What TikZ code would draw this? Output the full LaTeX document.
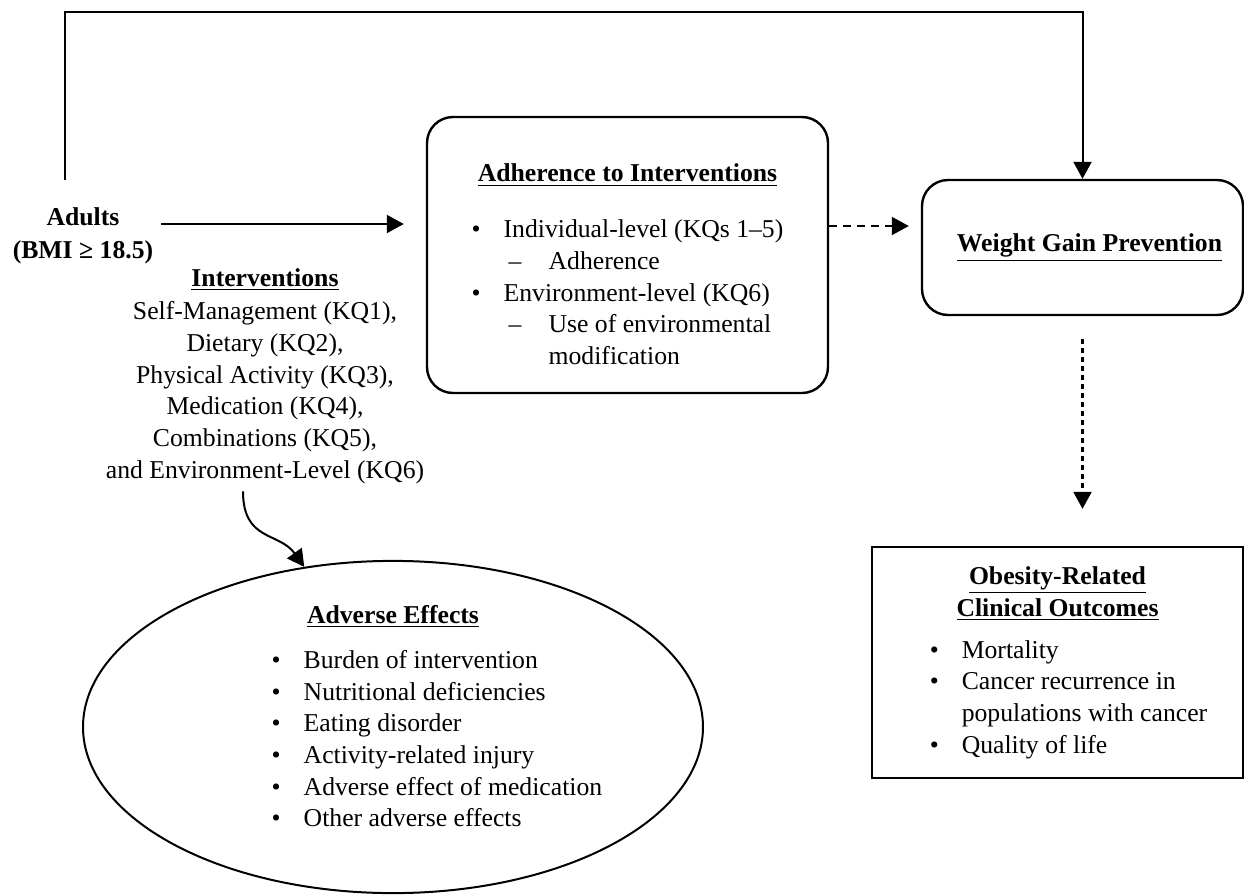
\documentclass[tikz,border=0pt]{standalone}
\usepackage{fontspec}
\setmainfont{Liberation Serif}
\usetikzlibrary{arrows.meta,shapes.geometric}

\newcommand{\blt}[1]{\makebox[16pt][l]{\textbullet}#1}
\newcommand{\subblt}[1]{\hspace*{18.5pt}\makebox[20pt][l]{--}#1}
\newcommand{\hd}[1]{\textbf{\underline{#1}}}

\begin{document}
\begin{tikzpicture}[x=0.5pt,y=-0.5pt,>={Triangle[length=8.5pt,width=9pt]},
        line width=1pt,
        every node/.style={font=\fontsize{12.85pt}{15.85pt}\selectfont},
        roundbox/.style={draw,line width=1.2pt,rounded corners=13pt,inner sep=0pt},
        outbox/.style={draw,line width=1.2pt,inner sep=0pt},
        dashline/.style={->,dash pattern=on 4pt off 3pt},
        dotline/.style={->,line width=1.2pt,dash pattern=on 2.5pt off 2pt}]
      \useasboundingbox (0,0) rectangle (1244,895);

      % population and interventions
      \node[align=center,font=\fontsize{12.85pt}{16.5pt}\selectfont\bfseries] (adults) at (83,236) {Adults\\(BMI ≥ 18.5)};
      \node[align=center] (ints) at (265,376) {\hd{Interventions}\\[1pt]
        Self-Management (KQ1),\\ Dietary (KQ2),\\ Physical Activity (KQ3),\\
        Medication (KQ4),\\ Combinations (KQ5),\\ and Environment-Level (KQ6)};

      % boxes
      \node[roundbox,minimum width=200.5pt,minimum height=138pt] (adh) at (627.5,255)
        {\begin{tabular}{@{}c@{}}\rule{0pt}{22.9pt}\hd{Adherence to Interventions}\\[12pt]
          \begin{tabular}{@{}l@{}}
            \blt{Individual-level (KQs 1--5)}\\
            \subblt{Adherence}\\
            \blt{Environment-level (KQ6)}\\
            \subblt{Use of environmental}\\
            \hspace*{38.5pt}modification
          \end{tabular}
        \end{tabular}};
      \node[roundbox,minimum width=160.5pt,minimum height=67.5pt] (wgp) at (1082.5,247.5)
        {\hspace*{7pt}\hd{Weight Gain Prevention}};
      \node[outbox,minimum width=185.5pt,minimum height=115.5pt] (outc) at (1057.5,662.5)
        {\begin{tabular}{@{}c@{}}\hd{Obesity-Related}\\ \hd{Clinical Outcomes}\\[5.2pt]
          \hspace*{11pt}\begin{tabular}{@{}l@{}}
            \blt{Mortality}\\
            \blt{Cancer recurrence in}\\
            \hspace*{16pt}populations with cancer\\
            \blt{Quality of life}
          \end{tabular}
        \end{tabular}};
      \node[draw,ellipse,minimum width=310pt,minimum height=166pt,inner sep=0pt] (ae) at (393,727)
        {\raisebox{4pt}[\height][\depth]{\begin{tabular}{@{}c@{}}\hd{Adverse Effects}\\[6.5pt]
          \hspace*{44pt}\begin{tabular}{@{}l@{}}
            \blt{Burden of intervention}\\
            \blt{Nutritional deficiencies}\\
            \blt{Eating disorder}\\
            \blt{Activity-related injury}\\
            \blt{Adverse effect of medication}\\
            \blt{Other adverse effects}
          \end{tabular}
        \end{tabular}}};

      % connectors
      \coordinate (loopstart) at (65,180);
      \coordinate (looptop) at (65,12);
      \draw[->] (loopstart) -- (looptop) -| (wgp.north);
      \draw[->,shorten >=11pt] ([yshift=6pt]adults.east) -- ([yshift=6pt]adults.east -| adh.west);
      \draw[dashline,shorten >=6pt] ([yshift=14.5pt]adh.east) -- ([yshift=14.5pt]adh.east -| wgp.west);
      \draw[dotline,shorten <=11.5pt,shorten >=18.5pt] (wgp.south) -- (wgp.south |- outc.north);
      \draw[->] ([xshift=-11pt]ints.south) .. controls +(0,50) and +(-25,-35) .. (ae.119);
    \end{tikzpicture}
\end{document}
